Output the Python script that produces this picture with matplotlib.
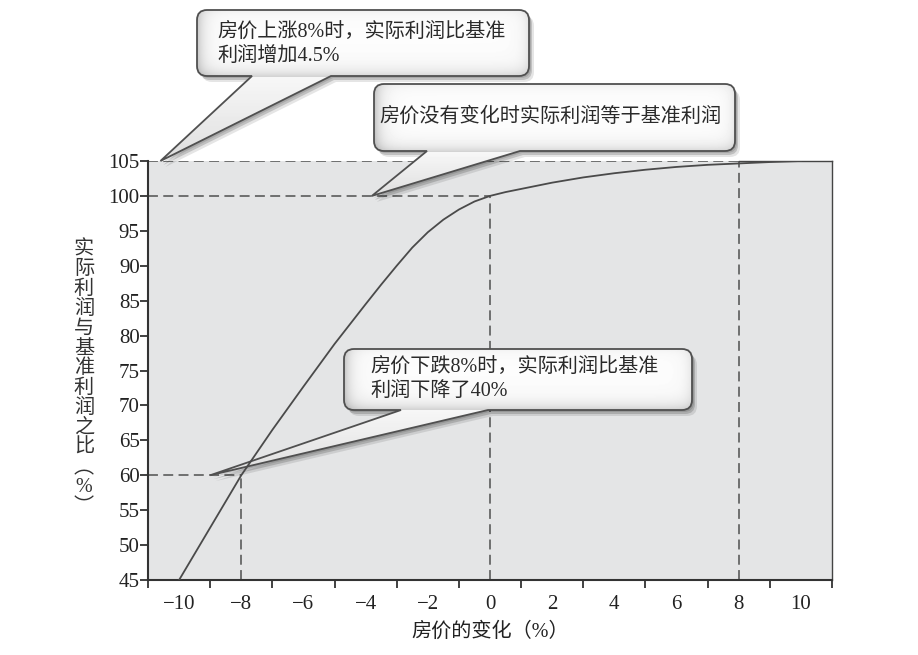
import numpy as np
import matplotlib
matplotlib.use("Agg")
import matplotlib.pyplot as plt
from matplotlib.path import Path
from matplotlib.patches import PathPatch
import matplotlib.transforms as mtransforms

W, H = 918, 655

# ---------------- data ----------------
price_change = [-10, -9, -8, -7, -6, -5, -4, -3.5, -3, -2.5, -2, -1.5, -1, -0.5,
                0, 0.5, 1, 1.5, 2, 3, 4, 5, 6, 7, 8, 9, 10]
profit_ratio = [45.0, 52.5, 60.0, 66.5, 72.7, 78.8, 84.5, 87.3, 90.0, 92.6, 94.8, 96.6,
                98.05, 99.2, 100.0, 100.55, 101.0, 101.45, 101.9, 102.65, 103.25, 103.75,
                104.15, 104.45, 104.65, 104.85, 105.0]

ref_x = [-8, 0, 8]
ref_y = [60, 100, 105]

xtick_values = [-10, -8, -6, -4, -2, 0, 2, 4, 6, 8, 10]
xtick_labels = ["\u221210", "\u22128", "\u22126", "\u22124", "\u22122", "0", "2", "4", "6", "8", "10"]
ytick_values = [45, 50, 55, 60, 65, 70, 75, 80, 85, 90, 95, 100, 105]
ytick_labels = ["45", "50", "55", "60", "65", "70", "75", "80", "85", "90", "95", "100", "105"]

x_label = "房价的变化（%）"
y_label_chars = list("实际利润与基准利润之比") + ["\ufe35", "%", "\ufe36"]

notes = ["房价上涨8%时，实际利润比基准\n利润增加4.5%",
         "房价没有变化时实际利润等于基准利润",
         "房价下跌8%时，实际利润比基准\n利润下降了40%"]
note_tip_x = [-10.6, -3.8, -9.0]
note_tip_y = [105, 100, 60]

# ---------------- layout (pixels, origin top-left) ----------------
note_boxes = [(197, 10, 529, 76), (374, 84, 735, 151), (344, 349, 692, 410)]
note_tail_base = [(252, 331), (427, 520), (401, 488)]
note_text_pos = [(217, 32), (379, 117), (370, 367)]

SERIF_CJK = ["Liberation Serif", "Noto Sans CJK SC"]

fig = plt.figure(figsize=(W / 100, H / 100), dpi=100)
fig.patch.set_facecolor("white")
ax = fig.add_axes([148 / W, 1 - 580 / H, (832 - 148) / W, (580 - 161) / H])
ax.set_facecolor("#e4e5e6")
ax.set_xlim(-11, 11)
ax.set_ylim(45, 105)

pix = mtransforms.Affine2D().scale(1, -1).translate(0, H)

# curve
ax.plot(price_change, profit_ratio, color="#4a4a4a", lw=1.3, zorder=5)

# reference dashed lines
for rx, ry in zip(ref_x, ref_y):
    ax.plot([rx, rx], [45, ry], ls=(0, (6.5, 3.5)), color="#4f4f4f", lw=1.1, zorder=2)
    ax.plot([-11, rx], [ry, ry], ls=(0, (6.5, 3.5)), color="#4f4f4f", lw=1.1, zorder=2)

# spines
for s in ["left", "bottom"]:
    ax.spines[s].set_color("#333333")
    ax.spines[s].set_linewidth(1.5)
ax.spines["right"].set_color("#444444")
ax.spines["right"].set_linewidth(1.0)
ax.spines["top"].set_color("#444444")
ax.spines["top"].set_linewidth(1.0)
ax.spines["top"].set_bounds(ref_x[-1], 11)

# ticks
ax.set_xticks(xtick_values)
ax.set_xticklabels(xtick_labels, family="Liberation Serif", fontsize=15, color="#222222")
ax.set_xticks(np.arange(-11, 12, 2), minor=True)
ax.tick_params(axis="x", which="major", length=0, pad=11)
ax.tick_params(axis="x", which="minor", length=6, width=1.3, direction="out", color="#333333")
ax.set_yticks(ytick_values)
ax.set_yticklabels(ytick_labels, family="Liberation Serif", fontsize=15, color="#222222")
ax.tick_params(axis="y", which="major", length=6, width=1.3, direction="out", pad=0.0,
               color="#333333")

# axis labels
fig.text(490 / W, 1 - 632 / H, x_label, ha="center", va="center", fontsize=14.5,
         family=SERIF_CJK, color="#222222")
y0c, step = 250, 19.8
for i, ch in enumerate(y_label_chars):
    fam = ["Noto Sans CJK SC"] if ch in ("\ufe35", "\ufe36") else SERIF_CJK
    fig.text(84 / W, 1 - (y0c + i * step) / H, ch, ha="center", va="center", fontsize=14.5,
             family=fam, color="#333333")


def bubble_path(box, base, tip, r=10):
    x0, y0, x1, y1 = box
    b0, b1 = base
    verts = [(x0 + r, y0), (x1 - r, y0), (x1, y0), (x1, y0 + r), (x1, y1 - r), (x1, y1),
             (x1 - r, y1), (b1, y1), tip, (b0, y1), (x0 + r, y1), (x0, y1), (x0, y1 - r),
             (x0, y0 + r), (x0, y0), (x0 + r, y0), (x0 + r, y0)]
    codes = [Path.MOVETO, Path.LINETO, Path.CURVE3, Path.CURVE3, Path.LINETO, Path.CURVE3,
             Path.CURVE3, Path.LINETO, Path.LINETO, Path.LINETO, Path.LINETO, Path.CURVE3,
             Path.CURVE3, Path.LINETO, Path.CURVE3, Path.CURVE3, Path.CLOSEPOLY]
    return Path(verts, codes)


for text, tx, ty, box, base, tpos in zip(notes, note_tip_x, note_tip_y, note_boxes,
                                         note_tail_base, note_text_pos):
    d = ax.transData.transform((tx, ty))
    tip = (d[0], H - d[1])
    path = bubble_path(box, base, tip)
    # shadow
    for off, al in [((5, 6), 0.10), ((3, 4), 0.16), ((2, 2), 0.12)]:
        sp = PathPatch(path, facecolor="black", edgecolor="none", alpha=al,
                       transform=mtransforms.Affine2D().translate(*off) + pix, zorder=3)
        ax.add_patch(sp)
        sp.set_clip_on(False)
    outline = PathPatch(path, facecolor="none", edgecolor="#505050", lw=1.3,
                        transform=pix, zorder=4.5)
    ax.add_patch(outline)
    outline.set_clip_on(False)
    # gradient fill
    x0, y0, x1, y1 = box
    gx0 = min(x0, tip[0]) - 2
    gx1 = max(x1, tip[0]) + 2
    gy0 = min(y0, tip[1]) - 2
    gy1 = max(y1, tip[1]) + 2
    X, Y = np.meshgrid(np.arange(gx0, gx1, 1.0), np.arange(gy0, gy1, 1.0))
    v = np.full(X.shape, 0.99)
    inside = Y <= y1
    v -= 0.22 * np.exp(-np.clip(X - x0, 0, None) / 7.0) * inside
    v -= 0.16 * np.exp(-np.clip(y1 - Y, 0, None) / 7.0) * inside
    v -= 0.10 * np.exp(-np.clip(x1 - X, 0, None) / 6.0) * inside
    v -= 0.05 * np.exp(-np.clip(Y - y0, 0, None) / 5.0) * inside
    tail = ~inside
    frac = np.clip((Y - y1) / max(abs(tip[1] - y1), 1), 0, 1)
    v[tail] = (0.97 - 0.10 * frac)[tail]
    im = ax.imshow(v, cmap="gray", vmin=0, vmax=1, extent=(gx0, gx1, gy1, gy0),
                   transform=pix, aspect="auto", zorder=4.2, interpolation="bilinear")
    im.set_clip_box(fig.bbox)
    im.set_clip_path(outline)
    # text
    lines = text.split("\n")
    for j, ln in enumerate(lines):
        ax.text(tpos[0], tpos[1] + j * 25, ln, transform=pix, ha="left", va="center",
                fontsize=14.5, family=SERIF_CJK, color="#2a2a2a", zorder=7, clip_on=False)

ax.set_xlim(-11, 11)
ax.set_ylim(45, 105)
fig.savefig("out.png", dpi=100, facecolor="white")
